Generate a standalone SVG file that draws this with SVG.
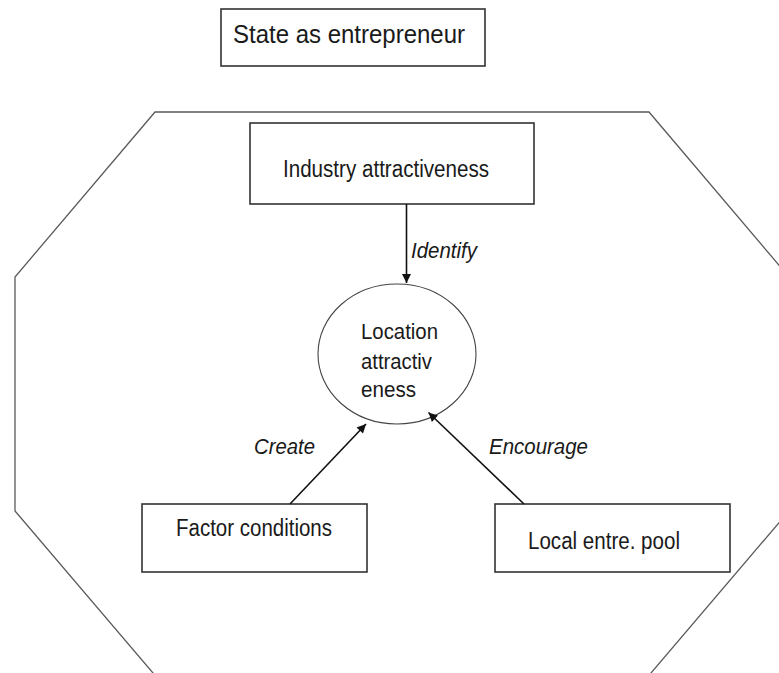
<svg xmlns="http://www.w3.org/2000/svg" width="779" height="673" viewBox="0 0 779 673">
<style>
.box{fill:#fff;stroke:#333;stroke-width:1.6}
.oct{fill:none;stroke:#5a5a5a;stroke-width:1.3}
.t{font-family:"Liberation Sans",Arial,sans-serif;fill:#1a1a1a}
.i{font-family:"Liberation Sans",Arial,sans-serif;font-style:italic;fill:#1a1a1a;font-size:22px}
.conn{stroke:#111;stroke-width:1.6;fill:none;marker-end:url(#ah)}
</style>
<defs>
<marker id="ah" viewBox="0 0 10 10" refX="10" refY="5" markerWidth="11" markerHeight="9" markerUnits="userSpaceOnUse" orient="auto">
<path d="M0,0 L10,5 L0,10 z" fill="#111"/>
</marker>
</defs>
<rect width="779" height="673" fill="#fff"/>
<g id="boundary">
<polygon class="oct" points="155,112 649,112 789,277 789,511 628,700 176,700 15,511 15,277"/>
</g>
<g id="state">
<rect class="box" x="221" y="9" width="264" height="57"/>
<text class="t" x="233" y="43" font-size="26" textLength="232" lengthAdjust="spacingAndGlyphs">State as entrepreneur</text>
</g>
<g id="industry">
<rect class="box" x="250" y="123" width="284" height="81"/>
<text class="t" x="283" y="177" font-size="23" textLength="206" lengthAdjust="spacingAndGlyphs">Industry attractiveness</text>
</g>
<g id="location">
<ellipse cx="397" cy="354" rx="79" ry="70" fill="#fff" stroke="#444" stroke-width="1.1"/>
<text class="t" font-size="22"><tspan x="361" y="339" textLength="77" lengthAdjust="spacingAndGlyphs">Location</tspan><tspan x="361" y="369" textLength="71" lengthAdjust="spacingAndGlyphs">attractiv</tspan><tspan x="361" y="397" textLength="55" lengthAdjust="spacingAndGlyphs">eness</tspan></text>
</g>
<g id="factor">
<rect class="box" x="142" y="504" width="225" height="68"/>
<text class="t" x="176" y="536" font-size="23" textLength="156" lengthAdjust="spacingAndGlyphs">Factor conditions</text>
</g>
<g id="local">
<rect class="box" x="495" y="504" width="235" height="68"/>
<text class="t" x="528" y="549" font-size="23" textLength="152" lengthAdjust="spacingAndGlyphs">Local entre. pool</text>
</g>
<g id="connectors">
<line class="conn" x1="406.5" y1="204" x2="406.5" y2="283"/>
<text class="i" x="411" y="258" textLength="66" lengthAdjust="spacingAndGlyphs">Identify</text>
<line class="conn" x1="290" y1="504" x2="366" y2="424"/>
<text class="i" x="254" y="454" textLength="61" lengthAdjust="spacingAndGlyphs">Create</text>
<line class="conn" x1="524" y1="504" x2="428.5" y2="412.5"/>
<text class="i" x="489" y="454" textLength="99" lengthAdjust="spacingAndGlyphs">Encourage</text>
</g>
</svg>
